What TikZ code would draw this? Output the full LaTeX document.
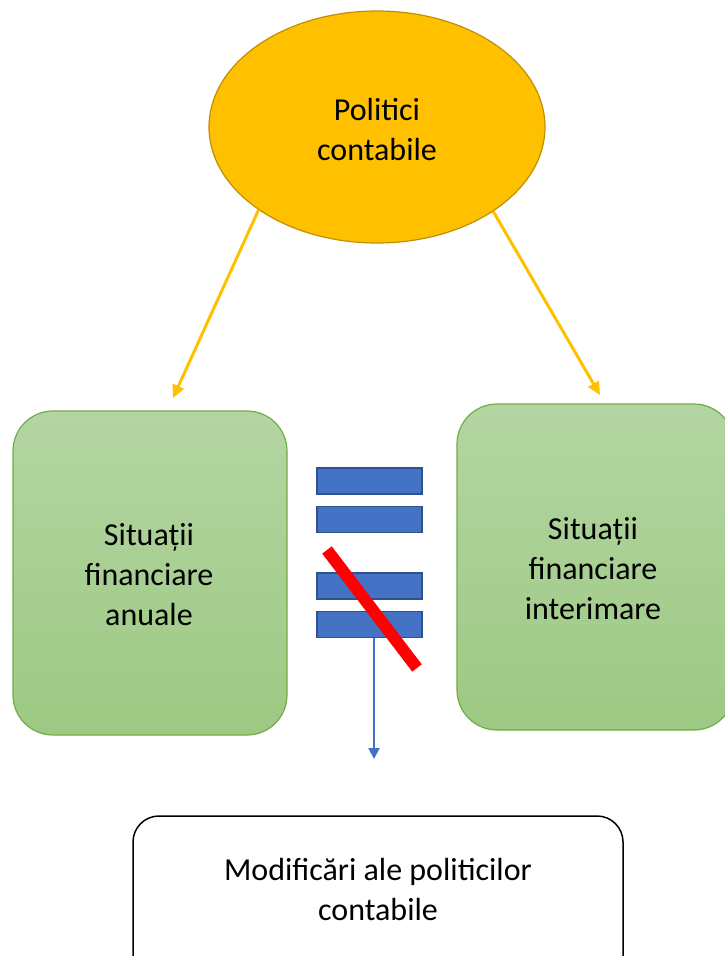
\documentclass[tikz,border=0pt]{standalone}
\usepackage{fontspec}
\setmainfont{Carlito}
\usetikzlibrary{arrows.meta,shapes.geometric}
\definecolor{gold}{HTML}{FFC000}
\definecolor{golddark}{HTML}{BF9000}
\definecolor{gtop}{HTML}{B4D5A2}
\definecolor{gbot}{HTML}{9DC983}
\definecolor{gborder}{HTML}{70AD47}
\definecolor{bfill}{HTML}{4472C4}
\definecolor{bborder}{HTML}{2F528F}
\tikzset{
  greenbox/.style={draw=gborder, line width=1.2pt, rounded corners=40pt, top color=gtop, bottom color=gbot},
  txt/.style={align=center, font=\fontsize{32}{40}\selectfont},
  bar/.style={draw=bborder, line width=1.5pt, fill=bfill, minimum width=105pt, minimum height=26pt, inner sep=0pt},
  yarrow/.style={draw=gold, line width=3pt, -{Triangle[length=13pt,width=12pt]}},
}
\begin{document}
\begin{tikzpicture}[x=1pt,y=-1pt]
\useasboundingbox (0,0) rectangle (724,956);
\node[ellipse, draw=golddark, line width=1.2pt, fill=gold, minimum width=336pt, minimum height=232pt, inner sep=0pt] (pc) at (377,127) {};
\node[txt] (pct) at (377,130) {Politici\\contabile};
\path[greenbox] (13,411) rectangle (287,735);
\node[txt] (sa) at (149,575) {Situații\\financiare\\anuale};
\path[greenbox] (457,404) rectangle (734,730);
\node[txt] (si) at (593,569) {Situații\\financiare\\interimare};
\coordinate (tl) at (173,398);
\coordinate (tr) at (600,395);
\draw[yarrow] (pc.215.5) -- (tl);
\draw[yarrow] (pc.324.5) -- (tr);
\node[bar] (b1) at (369.5,481) {};
\node[bar] (b2) at (369.5,519.5) {};
\node[bar] (b3) at (369.5,586) {};
\node[bar] (b4) at (369.5,624.5) {};
\coordinate (ra) at (327,550);
\coordinate (rb) at (417,668);
\draw[red, line width=12pt] (ra) -- (rb);
\coordinate (bs) at (374,637.5);
\coordinate (be) at (374,759);
\draw[bfill, line width=2pt, -{Triangle[length=11pt,width=11pt]}] (bs) -- (be);
\draw[black, line width=1.5pt, rounded corners=26pt] (133,990) -- (133,816) -- (623,816) -- (623,990);
\node[txt] (mod) at (378,889) {Modificări ale politicilor\\contabile};
\end{tikzpicture}
\end{document}
